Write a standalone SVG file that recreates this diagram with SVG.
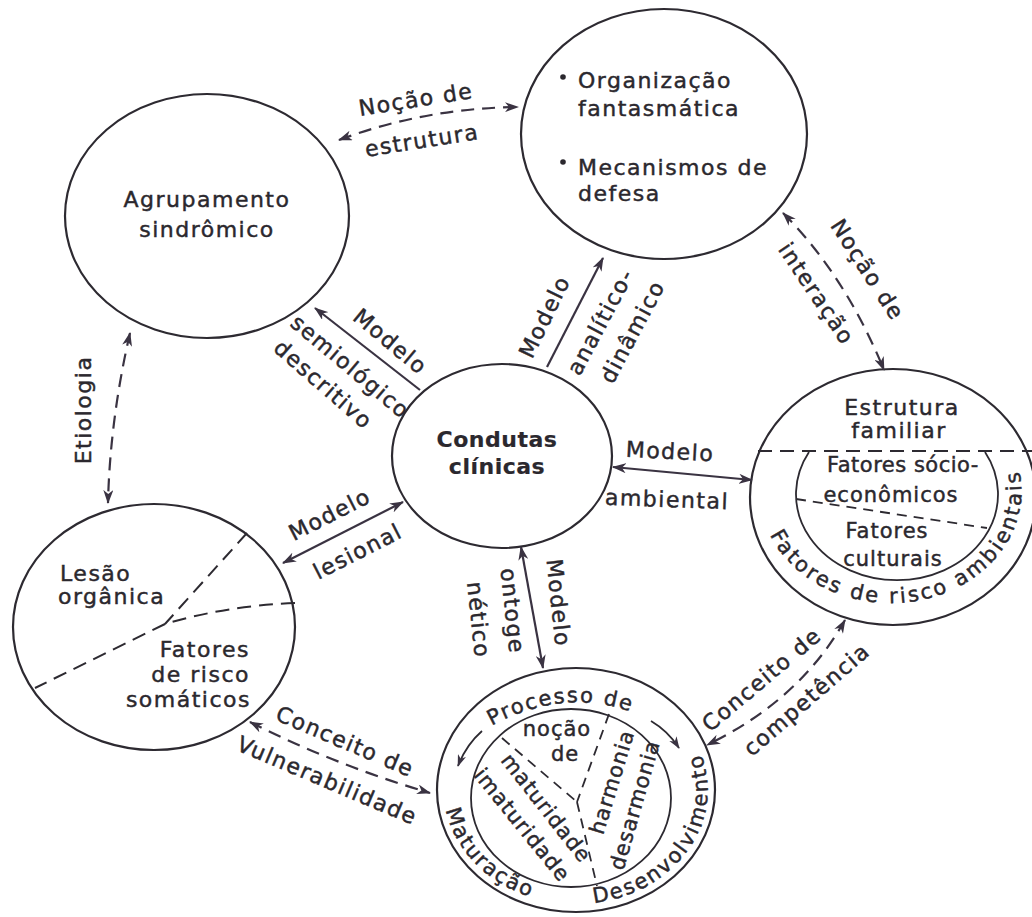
<svg xmlns="http://www.w3.org/2000/svg" width="1032" height="917" viewBox="0 0 1032 917">
  <style>
    .ring { fill: none; stroke: #2d2a31; stroke-width: 2.2; }
    .thin { fill: none; stroke: #2d2a31; stroke-width: 1.8; }
    .dash { fill: none; stroke: #2d2a31; stroke-width: 2; stroke-dasharray: 14 8; }
    .sdash { fill: none; stroke: #2d2a31; stroke-width: 1.8; stroke-dasharray: 10 7; }
    .edge { fill: none; stroke: #3a3342; stroke-width: 2.2; }
    .edash { fill: none; stroke: #3a3342; stroke-width: 2.2; stroke-dasharray: 13 8; }
    text { font-family: "DejaVu Sans", "Liberation Sans", sans-serif; font-size: 22px; letter-spacing: 1.5px; fill: #2b282e; stroke: #2b282e; stroke-width: 0.45px; }
    .c { text-anchor: middle; }
    .e { text-anchor: end; }
    .b { font-weight: bold; letter-spacing: 0.5px; stroke-width: 0.2px; }
    .s { font-size: 21px; letter-spacing: 1px; }
    .r { font-size: 21px; letter-spacing: 1.8px; }
  </style>
  <defs>
    <marker id="ah" viewBox="0 0 14 10" refX="13" refY="5" markerWidth="14" markerHeight="10" markerUnits="userSpaceOnUse" orient="auto-start-reverse">
      <path d="M0,0 L14,5 L0,10 L4,5 Z" fill="#3a3342"/>
    </marker>
    <marker id="ahs" viewBox="0 0 14 10" refX="13" refY="5" markerWidth="12" markerHeight="9" markerUnits="userSpaceOnUse" orient="auto-start-reverse">
      <path d="M0,0 L14,5 L0,10 L4,5 Z" fill="#3a3342"/>
    </marker>
    <!-- baselines for the lettering that follows the rings -->
    <path id="p-ambient" d="M 769 533 A 131 112 0 0 0 1016 459"/>
    <path id="p-processo" d="M 488 728 Q 572 680 655 722"/>
    <path id="p-maturacao" d="M 446 810 A 132 114 0 0 0 553 902"/>
    <path id="p-desenv" d="M 594 903 A 132 114 0 0 0 690 733"/>
  </defs>

  <rect width="1032" height="917" fill="#ffffff"/>

  <!-- Agrupamento sindrômico -->
  <g id="node-agrupamento">
    <ellipse class="ring" cx="207" cy="216" rx="142" ry="122"/>
    <text class="c" x="207" y="207">Agrupamento</text>
    <text class="c" x="207" y="237">sindrômico</text>
  </g>

  <!-- Organização fantasmática / Mecanismos de defesa -->
  <g id="node-organizacao">
    <ellipse class="ring" cx="664" cy="134" rx="143" ry="125"/>
    <circle cx="563" cy="77" r="2.8" fill="#2b282e"/>
    <text x="578" y="88">Organização</text>
    <text x="578" y="116">fantasmática</text>
    <circle cx="563" cy="162" r="2.8" fill="#2b282e"/>
    <text x="578" y="175">Mecanismos de</text>
    <text x="578" y="201">defesa</text>
  </g>

  <!-- Condutas clínicas -->
  <g id="node-condutas">
    <ellipse class="ring" cx="502" cy="456" rx="110" ry="92"/>
    <text class="c b" x="497" y="447">Condutas</text>
    <text class="c b" x="497" y="474">clínicas</text>
  </g>

  <!-- Estrutura familiar and environmental risk factors -->
  <g id="node-estrutura">
    <ellipse class="ring" cx="893" cy="497" rx="143" ry="128"/>
    <line class="dash" x1="758" y1="451" x2="1032" y2="451"/>
    <path class="thin" d="M 809 452 A 101 86 0 1 0 985 452"/>
    <line class="sdash" x1="796" y1="499" x2="987" y2="528"/>
    <text class="c" x="902" y="415">Estrutura</text>
    <text class="c" x="899" y="438">familiar</text>
    <text class="c s" x="903" y="472" style="letter-spacing:0.5px">Fatores sócio-</text>
    <text class="c s" x="891" y="502">econômicos</text>
    <text class="c s" x="887" y="538">Fatores</text>
    <text class="c s" x="893" y="566">culturais</text>
    <text class="r" style="letter-spacing:2.6px"><textPath href="#p-ambient" startOffset="2">Fatores de risco ambientais</textPath></text>
  </g>

  <!-- Lesão orgânica / Fatores de risco somáticos -->
  <g id="node-lesao">
    <ellipse class="ring" cx="154" cy="627" rx="141" ry="123"/>
    <path class="dash" d="M 247 533 L 165 624 M 165 624 L 35 688 M 295 603 Q 225 606 165 624"/>
    <text x="60" y="581">Lesão</text>
    <text x="58" y="604">orgânica</text>
    <text class="e" x="250" y="657">Fatores</text>
    <text class="e" x="250" y="682">de risco</text>
    <text class="e" x="251" y="707">somáticos</text>
  </g>

  <!-- Processo de desenvolvimento / maturação -->
  <g id="node-processo">
    <ellipse class="ring" cx="576" cy="790" rx="139" ry="122"/>
    <ellipse class="thin" cx="571" cy="798" rx="100" ry="89"/>
    <path class="sdash" d="M 502 738 L 577 802 M 609 714 L 577 802 M 577 802 L 597 886"/>
    <path class="thin" d="M 482 731 Q 466 745 458 766" marker-end="url(#ahs)"/>
    <path class="thin" d="M 651 721 Q 668 731 679 748" marker-end="url(#ahs)"/>
    <text class="r"><textPath href="#p-processo" startOffset="4">Processo de</textPath></text>
    <text class="r"><textPath href="#p-maturacao" startOffset="0">Maturação</textPath></text>
    <text class="r" style="letter-spacing:2px"><textPath href="#p-desenv" startOffset="0">Desenvolvimento</textPath></text>
    <text class="c s" x="557" y="736">noção</text>
    <text class="c s" x="565" y="761">de</text>
    <text class="c s" transform="translate(546 808) rotate(52)" y="7">maturidade</text>
    <text class="c s" transform="translate(522 825) rotate(51)" y="7">imaturidade</text>
    <text class="c s" transform="translate(612 782) rotate(-73)" y="7">harmonia</text>
    <text class="c s" transform="translate(635 805) rotate(-74)" y="7">desarmonia</text>
  </g>

  <!-- connectors with their labels -->
  <g id="connectors">
    <g id="edge-estrutura">
      <path class="edash" d="M 339 140 Q 425 108 518 107" marker-start="url(#ah)" marker-end="url(#ah)"/>
      <text class="c" transform="translate(416 100) rotate(-9)" y="7">Noção de</text>
      <text class="c" transform="translate(422 141) rotate(-9)" y="7">estrutura</text>
    </g>
    <g id="edge-semiologico">
      <path class="edge" d="M 420 390 L 315 308" marker-end="url(#ah)"/>
      <text class="c" transform="translate(390 342) rotate(40)" y="7">Modelo</text>
      <text class="c" transform="translate(350 367) rotate(40)" y="7">semiológico</text>
      <text class="c" transform="translate(323 385) rotate(41)" y="7">descritivo</text>
    </g>
    <g id="edge-analitico">
      <path class="edge" d="M 547 367 L 603 258" marker-end="url(#ah)"/>
      <text class="c" transform="translate(545 317) rotate(-64)" y="7">Modelo</text>
      <text class="c" transform="translate(601 322) rotate(-62)" y="7">analítico-</text>
      <text class="c" transform="translate(633 332) rotate(-62)" y="7">dinâmico</text>
    </g>
    <g id="edge-interacao">
      <path class="edash" d="M 783 213 Q 845 275 884 370" marker-start="url(#ah)" marker-end="url(#ah)"/>
      <text class="c" transform="translate(867 270) rotate(57)" y="7">Noção de</text>
      <text class="c" transform="translate(816 294) rotate(56)" y="7">interação</text>
    </g>
    <g id="edge-ambiental">
      <path class="edge" d="M 613 467 L 752 480" marker-start="url(#ah)" marker-end="url(#ah)"/>
      <text class="c" transform="translate(670 452) rotate(3)" y="7">Modelo</text>
      <text class="c" transform="translate(667 500) rotate(2)" y="7">ambiental</text>
    </g>
    <g id="edge-lesional">
      <path class="edge" d="M 403 502 L 283 563" marker-start="url(#ah)" marker-end="url(#ah)"/>
      <text class="c" transform="translate(330 515) rotate(-27)" y="7">Modelo</text>
      <text class="c" transform="translate(358 552) rotate(-27)" y="7">lesional</text>
    </g>
    <g id="edge-ontogenetico">
      <path class="edge" d="M 521 547 L 543 668" marker-start="url(#ah)" marker-end="url(#ah)"/>
      <text class="c" transform="translate(558 603) rotate(84)" y="7">Modelo</text>
      <text class="c" transform="translate(512 611) rotate(84)" y="7">ontoge</text>
      <text class="c" transform="translate(478 620) rotate(84)" y="7">nético</text>
    </g>
    <g id="edge-etiologia">
      <path class="edash" d="M 130 333 Q 110 420 108 503" marker-start="url(#ah)" marker-end="url(#ah)"/>
      <text class="c" transform="translate(84 410) rotate(-90)" y="7">Etiologia</text>
    </g>
    <g id="edge-competencia">
      <path class="edash" d="M 845 620 Q 800 700 707 745" marker-start="url(#ah)" marker-end="url(#ah)"/>
      <text class="c" transform="translate(762 680) rotate(-40)" y="7">Conceito de</text>
      <text class="c" transform="translate(807 700) rotate(-41)" y="7">competência</text>
    </g>
    <g id="edge-vulnerabilidade">
      <path class="edash" d="M 250 722 Q 335 765 430 793" marker-start="url(#ah)" marker-end="url(#ah)"/>
      <text class="c" transform="translate(345 742) rotate(23)" y="7">Conceito de</text>
      <text class="c" transform="translate(327 781) rotate(23)" y="7">Vulnerabilidade</text>
    </g>
  </g>
</svg>
